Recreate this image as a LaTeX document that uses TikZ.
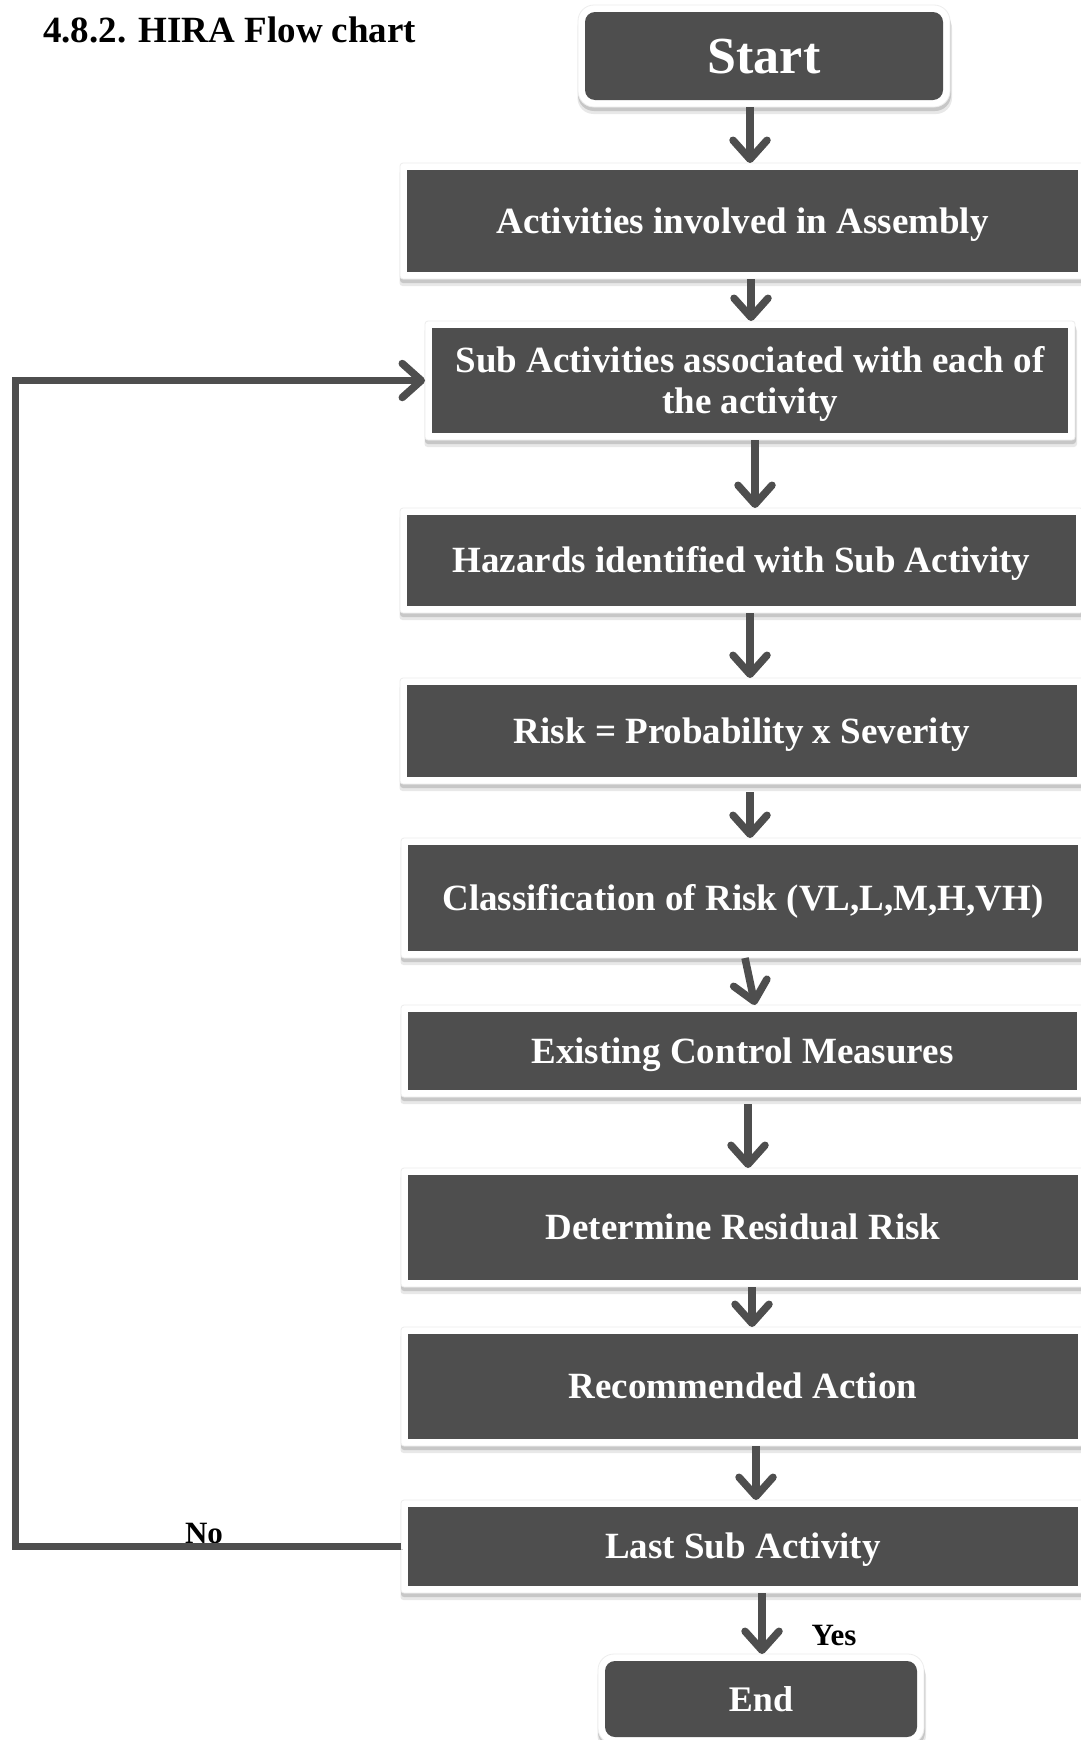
\documentclass[tikz,border=0pt]{standalone}
\usepackage{fontspec}
\setmainfont{Liberation Serif}
\usetikzlibrary{arrows.meta,backgrounds}
\definecolor{boxgray}{RGB}{78,78,78}
\newcommand\myframe[2]{%
  \fill[black!9, rounded corners=#2] ([shift={(-0.5pt,-7pt)}]#1.south west) rectangle ([shift={(2pt,-7pt)}]#1.north east);
  \fill[black!22, rounded corners=#2] ([shift={(0pt,-4pt)}]#1.south west) rectangle ([shift={(1pt,-4pt)}]#1.north east);
  \filldraw[fill=white, draw=black!7, line width=0.8pt, rounded corners=#2] (#1.south west) rectangle (#1.north east);
}
\begin{document}
\begin{tikzpicture}[x=1pt,y=-1pt,
  box/.style={fill=boxgray, text=white, font=\bfseries\fontsize{37}{41}\selectfont,
    inner sep=0pt, outer sep=7pt, text height=24.5pt, text depth=0pt, align=center},
  arr/.style={draw=boxgray, line width=7.5pt, -{Straight Barb[length=19pt,width=34pt,round]},
    preaction={draw=black!18, transform canvas={shift={(1.5pt,-3pt)}}}},
  lbl/.style={font=\bfseries\fontsize{31}{34}\selectfont, anchor=base, inner sep=0pt}
]
\useasboundingbox (0,0) rectangle (1081,1740);

\node[anchor=base west, inner sep=0pt, font=\bfseries\fontsize{37}{40}\selectfont] (title) at (43,42) {4.8.2. HIRA Flow chart};

\node[box, rounded corners=10pt, minimum width=358pt, minimum height=88pt,
  font=\bfseries\fontsize{52}{56}\selectfont, text height=34.4pt] (start) at (764,56) {Start};
\node[box, minimum width=671pt, minimum height=102pt] (act) at (742.5,221) {Activities involved in Assembly};
\node[box, minimum width=636pt, minimum height=105pt, text height=65.5pt, text depth=0.5pt] (sub) at (750,380.5) {Sub Activities associated with each of\\the activity};
\node[box, minimum width=669pt, minimum height=91pt] (haz) at (741.5,560.5) {Hazards identified with Sub Activity};
\node[box, minimum width=670pt, minimum height=92pt] (risk) at (742,731) {Risk = Probability x Severity};
\node[box, minimum width=670pt, minimum height=106pt] (cls) at (743,898) {Classification of Risk (VL,L,M,H,VH)};
\node[box, minimum width=669pt, minimum height=78pt] (ext) at (742.5,1051) {Existing Control Measures};
\node[box, minimum width=670pt, minimum height=105pt] (det) at (743,1227.5) {Determine Residual Risk};
\node[box, minimum width=670pt, minimum height=105pt] (rec) at (743,1386.5) {Recommended Action};
\node[box, minimum width=670pt, minimum height=79pt] (last) at (743,1546.5) {Last Sub Activity};
\node[box, rounded corners=10pt, minimum width=312pt, minimum height=76pt,
  font=\bfseries\fontsize{36}{40}\selectfont, text height=24pt] (end) at (761,1699) {End};

\begin{pgfonlayer}{background}
  \fill[white] (0,0) rectangle (1081,1740);
  \myframe{start}{16pt}
  \myframe{act}{3pt}
  \myframe{sub}{3pt}
  \myframe{haz}{3pt}
  \myframe{risk}{3pt}
  \myframe{cls}{3pt}
  \myframe{ext}{3pt}
  \myframe{det}{3pt}
  \myframe{rec}{3pt}
  \myframe{last}{3pt}
  \myframe{end}{16pt}
\end{pgfonlayer}

\node[lbl] (no) at (204,1543) {No};
\node[lbl] (yes) at (834,1645) {Yes};

\draw[arr] ([xshift=-14pt]start.south) -- ([xshift=7.5pt]act.north);
\draw[arr] ([xshift=8.5pt]act.south) -- ([xshift=1pt]sub.north);
\draw[arr] ([xshift=5pt]sub.south) -- ([xshift=13.5pt]haz.north);
\draw[arr] ([xshift=8.5pt]haz.south) -- ([xshift=8pt]risk.north);
\draw[arr, shorten <=8pt] ([xshift=8pt]risk.south) -- ([xshift=7pt]cls.north);
\draw[arr] ([xshift=2pt]cls.south) -- ([xshift=12.5pt]ext.north);
\draw[arr, shorten <=7pt] ([xshift=5.5pt]ext.south) -- ([xshift=5pt]det.north);
\draw[arr] ([xshift=9pt]det.south) -- ([xshift=9pt]rec.north);
\draw[arr] ([xshift=13pt]rec.south) -- ([xshift=13pt]last.north);
\draw[arr] ([xshift=19pt]last.south) -- ([xshift=1pt]end.north);

\coordinate (lx) at (15.5,900);
\draw[arr] (last.west) -| (lx) |- (sub.west);
\end{tikzpicture}
\end{document}
